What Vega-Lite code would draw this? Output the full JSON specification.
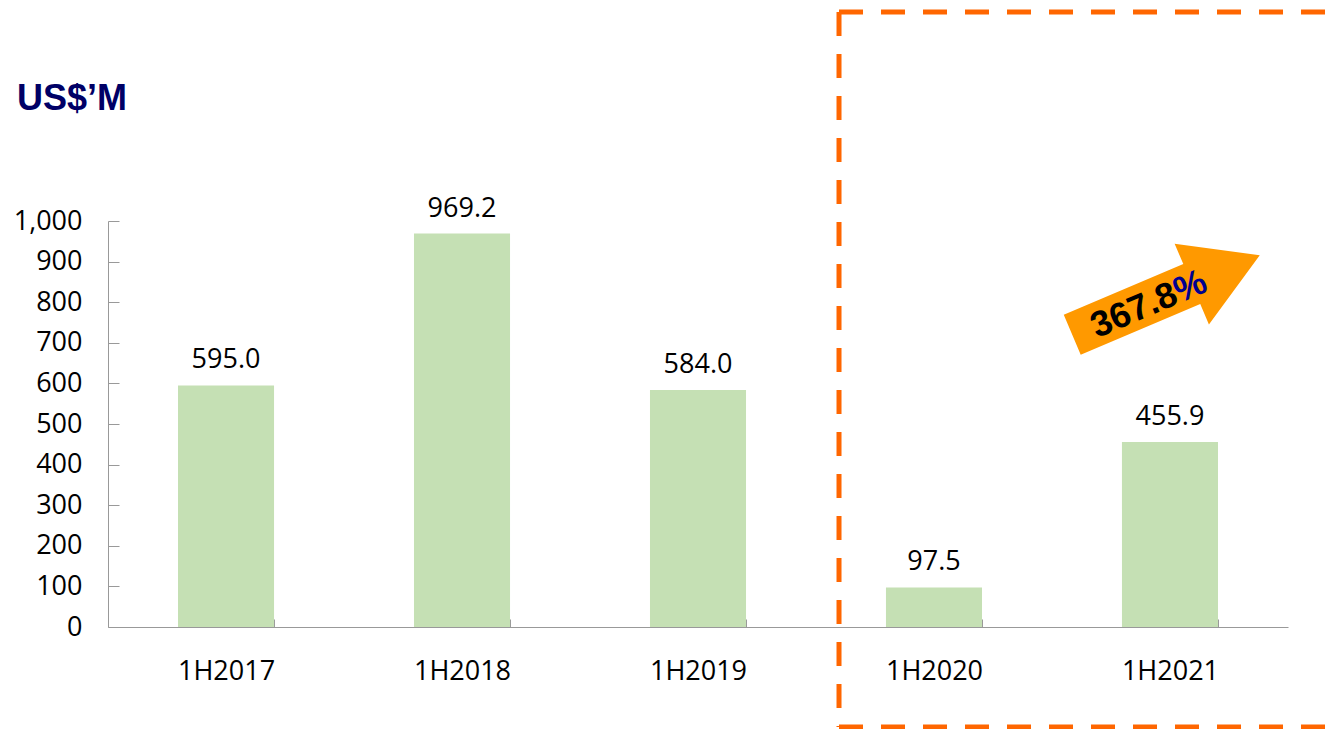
{
  "$schema": "https://vega.github.io/schema/vega-lite/v6.json",
  "width": 1180,
  "height": 406,
  "autosize": {"type": "none"},
  "padding": {"left": 108, "top": 221, "right": 50, "bottom": 102},
  "background": "white",
  "config": {"view": {"stroke": null}},
  "data": {"values": [
    {"period": "1H2017", "value": 595.0},
    {"period": "1H2018", "value": 969.2},
    {"period": "1H2019", "value": 584.0},
    {"period": "1H2020", "value": 97.5},
    {"period": "1H2021", "value": 455.9}
  ]},
  "resolve": {"scale": {"x": "independent", "y": "independent"}, "axis": {"x": "independent", "y": "independent"}},
  "layer": [
    {
      "layer": [
        {
          "mark": {"type": "bar", "color": "#C5E0B4"},
          "encoding": {
            "x": {"field": "period", "type": "nominal", "sort": null,
              "scale": {"paddingInner": 0.593, "paddingOuter": 0.2966},
              "axis": {"title": null, "labelAngle": 0, "labelFont": "Open Sans", "labelFontSize": 27, "labelColor": "black",
                "labelPadding": 39, "tickSize": -8, "tickBand": "extent", "domainColor": "#999999", "tickColor": "#999999", "grid": false}},
            "y": {"field": "value", "type": "quantitative",
              "scale": {"domain": [0, 1000], "nice": false},
              "axis": {"title": null, "values": [0, 100, 200, 300, 400, 500, 600, 700, 800, 900, 1000], "format": ",.0f",
                "labelFont": "Open Sans", "labelFontSize": 27, "labelColor": "black", "tickSize": -11, "labelPadding": 37,
                "domainColor": "#999999", "tickColor": "#999999", "grid": false}}
          }
        },
        {
          "mark": {"type": "text", "font": "Open Sans", "fontSize": 27, "dy": -17, "baseline": "alphabetic", "color": "black"},
          "encoding": {
            "x": {"field": "period", "type": "nominal", "sort": null,
              "scale": {"paddingInner": 0.593, "paddingOuter": 0.2966},
              "axis": {"title": null, "labelAngle": 0, "labelFont": "Open Sans", "labelFontSize": 27, "labelColor": "black",
                "labelPadding": 39, "tickSize": -8, "tickBand": "extent", "domainColor": "#999999", "tickColor": "#999999", "grid": false}},
            "y": {"field": "value", "type": "quantitative",
              "scale": {"domain": [0, 1000], "nice": false},
              "axis": {"title": null, "values": [0, 100, 200, 300, 400, 500, 600, 700, 800, 900, 1000], "format": ",.0f",
                "labelFont": "Open Sans", "labelFontSize": 27, "labelColor": "black", "tickSize": -11, "labelPadding": 37,
                "domainColor": "#999999", "tickColor": "#999999", "grid": false}},
            "text": {"field": "value", "type": "quantitative", "format": ".1f"}
          }
        }
      ]
    },
    {
      "data": {"values": [{"note": "growth 1H2020 to 1H2021"}]},
      "layer": [
        {
          "mark": {"type": "rule", "color": "#FF6600", "strokeWidth": 5, "strokeDash": [24, 18]},
          "encoding": {
            "x": {"datum": 0.6195, "type": "quantitative", "scale": {"domain": [0, 1], "nice": false, "zero": false}, "axis": null},
            "x2": {"datum": 1.1},
            "y": {"datum": 1514.8, "type": "quantitative", "scale": {"domain": [0, 1000], "nice": false}, "axis": null}
          }
        },
        {
          "mark": {"type": "rule", "color": "#FF6600", "strokeWidth": 5, "strokeDash": [24, 18]},
          "encoding": {
            "x": {"datum": 0.6195, "type": "quantitative", "scale": {"domain": [0, 1], "nice": false, "zero": false}, "axis": null},
            "y": {"datum": 1514.8, "type": "quantitative", "scale": {"domain": [0, 1000], "nice": false}, "axis": null},
            "y2": {"datum": -246.3}
          }
        },
        {
          "mark": {"type": "rule", "color": "#FF6600", "strokeWidth": 5, "strokeDash": [24, 18]},
          "encoding": {
            "x": {"datum": 0.6195, "type": "quantitative", "scale": {"domain": [0, 1], "nice": false, "zero": false}, "axis": null},
            "x2": {"datum": 1.1},
            "y": {"datum": -246.3, "type": "quantitative", "scale": {"domain": [0, 1000], "nice": false}, "axis": null}
          }
        },
        {
          "mark": {"type": "point", "shape": "M-1,-0.213L0.275,-0.213L0.275,-0.431L1,0L0.275,0.431L0.275,0.213L-1,0.213Z",
            "size": 41494, "angle": -23, "filled": true, "fill": "#FF9900", "opacity": 1, "strokeWidth": 0},
          "encoding": {
            "x": {"datum": 0.8966, "type": "quantitative", "scale": {"domain": [0, 1], "nice": false, "zero": false}, "axis": null},
            "y": {"datum": 817.7, "type": "quantitative", "scale": {"domain": [0, 1000], "nice": false}, "axis": null}
          }
        },
        {
          "mark": {"type": "text", "text": "367.8", "font": "Liberation Sans", "fontWeight": "bold", "fontSize": 36,
            "align": "right", "baseline": "alphabetic", "angle": -23, "color": "black"},
          "encoding": {
            "x": {"datum": 0.9085, "type": "quantitative", "scale": {"domain": [0, 1], "nice": false, "zero": false}, "axis": null},
            "y": {"datum": 798, "type": "quantitative", "scale": {"domain": [0, 1000], "nice": false}, "axis": null}
          }
        },
        {
          "mark": {"type": "text", "text": "%", "font": "Liberation Sans", "fontWeight": "bold", "fontSize": 36,
            "align": "left", "baseline": "alphabetic", "angle": -23, "color": "#000090"},
          "encoding": {
            "x": {"datum": 0.9085, "type": "quantitative", "scale": {"domain": [0, 1], "nice": false, "zero": false}, "axis": null},
            "y": {"datum": 798, "type": "quantitative", "scale": {"domain": [0, 1000], "nice": false}, "axis": null}
          }
        },
        {
          "mark": {"type": "text", "text": "US$’M", "font": "Liberation Sans", "fontWeight": "bold", "fontSize": 36,
            "align": "left", "baseline": "alphabetic", "color": "#000066"},
          "encoding": {
            "x": {"datum": -0.0771, "type": "quantitative", "scale": {"domain": [0, 1], "nice": false, "zero": false}, "axis": null},
            "y": {"datum": 1273.4, "type": "quantitative", "scale": {"domain": [0, 1000], "nice": false}, "axis": null}
          }
        }
      ]
    }
  ]
}
